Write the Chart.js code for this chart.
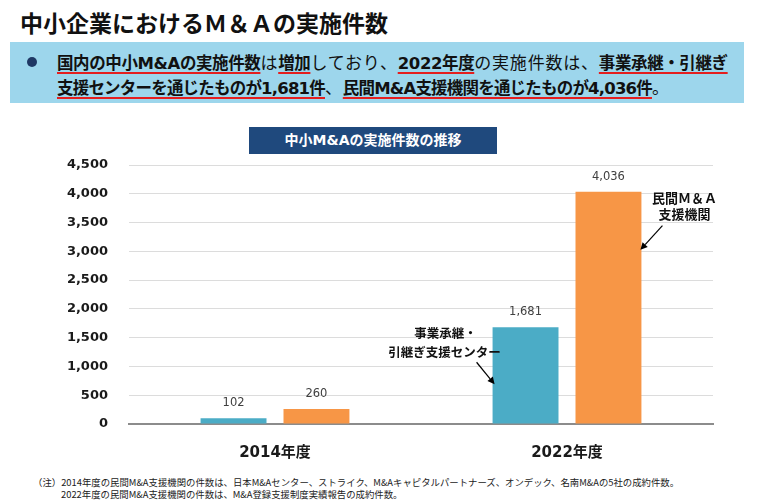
<!DOCTYPE html>
<html lang="ja">
<head>
<meta charset="utf-8">
<script src="https://cdn.jsdelivr.net/npm/chart.js@4.4.1/dist/chart.umd.min.js"></script>
<style>
  html, body { margin: 0; padding: 0; background: #ffffff; }
  body { width: 760px; height: 502px; position: relative; overflow: hidden;
         font-family: 'Noto Sans CJK JP', sans-serif; color: #111; }
  #title { position: absolute; left: 20px; top: 6px; font-size: 23px; font-weight: 700;
           line-height: 32px; white-space: nowrap; letter-spacing: 0; }
  #box { position: absolute; left: 10px; top: 42px; width: 734px; height: 61px; background: #9dd6ec; }
  #bullet { position: absolute; left: 27px; top: 57px; width: 10px; height: 10px; border-radius: 50%; background: #1f3864; }
  #lead { position: absolute; left: 57px; top: 50px; font-family: 'DejaVu Sans', 'Noto Sans CJK JP', sans-serif;
          font-size: 16.5px; line-height: 23px; white-space: nowrap; color: #111; }
  #lead span.r { font-weight: 400; font-family: 'Noto Sans CJK JP', sans-serif; font-size: 17px; letter-spacing: 0.8px; }
  #lead u { text-decoration: underline; text-decoration-color: #e41e1e; text-decoration-thickness: 2px;
            text-underline-offset: 3px; font-weight: 700; letter-spacing: -0.4px; }
  #lead u.t { letter-spacing: -0.8px; }
  #ctitle { position: absolute; left: 249px; top: 127px; width: 248px; height: 27px; background: #1f497d;
            color: #fff; font-size: 14px; font-weight: 700; line-height: 27px; text-align: center;
            font-family: 'DejaVu Sans', 'Noto Sans CJK JP', sans-serif; }
  #note { position: absolute; left: 33px; top: 476px; font-size: 9.4px; line-height: 12px; color: #222; white-space: nowrap; }
  #note div.l2 { padding-left: 28px; }
  canvas { position: absolute; left: 0; top: 0; }
</style>
</head>
<body>
<div id="title">中小企業におけるＭ＆Ａの実施件数</div>
<div id="box"></div>
<div id="bullet"></div>
<div id="lead"><u>国内の中小M&amp;Aの実施件数</u><span class="r">は</span><u>増加</u><span class="r">しており、</span><u>2022年度</u><span class="r">の実施件数は、</span><u>事業承継・引継ぎ</u><br><u class="t">支援センターを通じたものが1,681件</u><span class="r">、</span><u class="t">民間M&amp;A支援機関を通じたものが4,036件</u><span class="r">。</span></div>
<div id="ctitle">中小M&amp;Aの実施件数の推移</div>
<div id="note">
  <div>（注）2014年度の民間M&amp;A支援機関の件数は、日本M&amp;Aセンター、ストライク、M&amp;Aキャピタルパートナーズ、オンデック、名南M&amp;Aの5社の成約件数。</div>
  <div class="l2">2022年度の民間M&amp;A支援機関の件数は、M&amp;A登録支援制度実績報告の成約件数。</div>
</div>
<canvas id="c" width="760" height="502"></canvas>
<script>
// ---- data ----
const categories = ['2014年度', '2022年度'];
const centerLabel = '事業承継・引継ぎ支援センター';
const centerValues = [102, 1681];
const privateLabel = '民間M&A支援機関';
const privateValues = [260, 4036];
const yMin = 0;
const yMax = 4500;
const yStep = 500;

const NUM_FONT = "'DejaVu Sans', 'Noto Sans CJK JP', sans-serif";
const JP_FONT = "'Noto Sans CJK JP', sans-serif";

function arrow(ctx, x1, y1, x2, y2) {
  const ang = Math.atan2(y2 - y1, x2 - x1);
  const hl = 7, hw = 3.5;
  const bx = x2 - hl * Math.cos(ang), by = y2 - hl * Math.sin(ang);
  ctx.save();
  ctx.strokeStyle = '#000'; ctx.fillStyle = '#000'; ctx.lineWidth = 1.2;
  ctx.beginPath(); ctx.moveTo(x1, y1); ctx.lineTo(bx, by); ctx.stroke();
  ctx.beginPath();
  ctx.moveTo(x2, y2);
  ctx.lineTo(bx + hw * Math.sin(ang), by - hw * Math.cos(ang));
  ctx.lineTo(bx - hw * Math.sin(ang), by + hw * Math.cos(ang));
  ctx.closePath(); ctx.fill();
  ctx.restore();
}

const labelsPlugin = {
  id: 'labels',
  afterDatasetsDraw(chart) {
    const ctx = chart.ctx;
    ctx.save();
    ctx.font = '11.5px ' + NUM_FONT;
    ctx.fillStyle = '#404040';
    ctx.textAlign = 'center';
    ctx.textBaseline = 'middle';
    chart.data.datasets.forEach((ds, i) => {
      chart.getDatasetMeta(i).data.forEach((bar, j) => {
        ctx.fillText(ds.data[j].toLocaleString('en-US'), bar.x, bar.y - 15);
      });
    });
    // annotations
    const blue = chart.getDatasetMeta(0).data[1];
    const orange = chart.getDatasetMeta(1).data[1];
    const bl = blue.x - blue.width / 2;
    ctx.fillStyle = '#111';
    ctx.font = 'bold 12.5px ' + JP_FONT;
    ctx.fillText('事業承継・', bl - 47, blue.y + 6);
    ctx.fillText('引継ぎ支援センター', bl - 48, blue.y + 25);
    arrow(ctx, bl - 16, blue.y + 35, bl + 2, blue.y + 57);
    const orr = orange.x + orange.width / 2;
    ctx.font = 'bold 13px ' + JP_FONT;
    ctx.fillText('民間Ｍ＆Ａ', orr + 43, orange.y + 6);
    ctx.fillText('支援機関', orr + 43, orange.y + 22);
    arrow(ctx, orr + 21, orange.y + 34, orr - 1, orange.y + 58);
    ctx.restore();
  }
};

new Chart(document.getElementById('c'), {
  type: 'bar',
  data: {
    labels: categories,
    datasets: [
      { label: centerLabel, data: centerValues, backgroundColor: '#4bacc6',
        categoryPercentage: 0.568, barPercentage: 0.795 },
      { label: privateLabel, data: privateValues, backgroundColor: '#f79646',
        categoryPercentage: 0.568, barPercentage: 0.795 }
    ]
  },
  options: {
    responsive: false,
    animation: false,
    devicePixelRatio: 1,
    layout: { padding: { top: 165, left: 0, right: 47, bottom: 38 } },
    plugins: { legend: { display: false }, tooltip: { enabled: false }, title: { display: false } },
    scales: {
      x: {
        grid: { display: false },
        border: { display: true, color: '#8c8c8c', width: 2 },
        ticks: { color: '#1a1a1a', font: { family: NUM_FONT, size: 15, weight: 'bold' }, padding: 12 },
        afterFit(scale) { scale.height = 40; }
      },
      y: {
        min: yMin, max: yMax,
        border: { display: false },
        grid: { drawTicks: false, color: (c) => c.tick && c.tick.value === 0 ? '#8c8c8c' : '#dcdcdc', lineWidth: 1 },
        ticks: { stepSize: yStep, padding: 21, color: '#1a1a1a',
                 font: { family: NUM_FONT, size: 13, weight: 'bold' },
                 callback: (v) => Number(v).toLocaleString('en-US') },
        afterFit(scale) { scale.width = 129; }
      }
    }
  },
  plugins: [labelsPlugin]
});
</script>
</body>
</html>
